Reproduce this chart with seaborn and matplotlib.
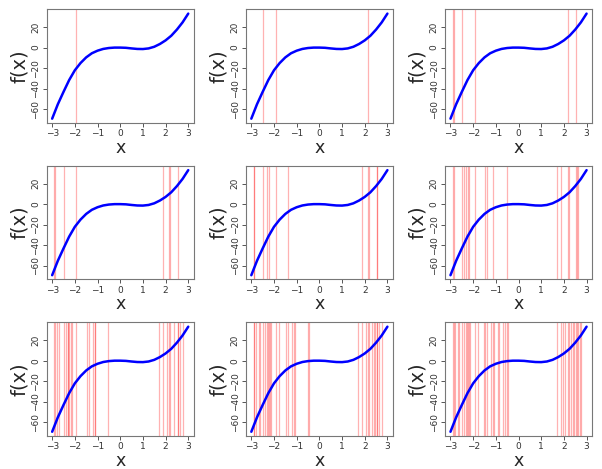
import matplotlib
matplotlib.use("Agg")
import matplotlib.pyplot as plt
import seaborn as sns
import numpy as np
import pandas as pd

# curve values
x_vals = [-3.0, -2.75, -2.5, -2.25, -2.0, -1.75, -1.5, -1.25, -1.0, -0.75, -0.5, -0.25,
          0.0, 0.25, 0.5, 0.75, 1.0, 1.25, 1.5, 1.75, 2.0, 2.25, 2.5, 2.75, 3.0]
f_vals = [-69.0, -55.0, -43.0, -31.5, -22.0, -15.0, -9.5, -5.5, -3.0, -1.3, -0.4, 0.0,
          0.0, -0.2, -0.8, -1.3, -1.4, -0.8, 0.8, 3.5, 7.0, 11.5, 17.5, 24.5, 33.0]

# sampled x positions (red lines), in the order they appear across panels
samples = [-1.93,
           -2.49, 2.16,
           -2.90, -2.86, 2.55,
           1.87, 2.21,
           -2.32, -2.24, -1.38, 2.56,
           -2.39, -2.19, -1.46, -1.13, -0.52, 1.69, 2.62,
           -2.80, -2.68, -2.28, -2.14, -1.21, -1.09, 2.06, 2.39, 2.77,
           -2.61, -1.80, -0.47, 2.31, 2.46,
           -1.52, -0.92, -0.84, -0.69, -0.60, 1.96, 2.69]
n_shown = [1, 3, 6, 8, 12, 19, 28, 33, 40]

x_ticks = [-3, -2, -1, 0, 1, 2, 3]
y_ticks = [-60, -40, -20, 0, 20]

curve = pd.DataFrame({"x": x_vals, "f": f_vals})

sns.set_style("white")
plt.rcParams['font.family'] = ['DejaVu Sans']

fig, axes = plt.subplots(3, 3, figsize=(6.02, 4.69), dpi=100)
fig.subplots_adjust(left=0.0776, right=0.9834, top=0.980, bottom=0.0704,
                    wspace=0.355, hspace=0.379)

for ax, n in zip(axes.flat, n_shown):
    for s in samples[:n]:
        ax.axvline(s, color='red', alpha=0.3, linewidth=0.9, zorder=1)
    sns.lineplot(data=curve, x="x", y="f", ax=ax, color='blue', linewidth=1.8,
                 zorder=3)
    ax.set_xlim(-3.24, 3.24)
    ax.set_ylim(-73.1, 37.1)
    ax.set_xticks(x_ticks)
    ax.set_yticks(y_ticks)
    ax.set_xticklabels([str(t).replace('-', '\u2212') for t in x_ticks])
    ax.set_yticklabels([str(t).replace('-', '\u2212') for t in y_ticks],
                       rotation=90, va='center')
    ax.tick_params(axis='both', direction='out', length=3, width=0.7,
                   colors='#555555', labelsize=6.5, labelcolor='#333333',
                   bottom=True, left=True, pad=1.5)
    ax.set_xlabel("x", fontsize=12.5, labelpad=0.3)
    ax.set_ylabel("f(x)", fontsize=14, labelpad=2)
    for sp in ax.spines.values():
        sp.set_color('#777777')
        sp.set_linewidth(0.8)

plt.savefig("out.png", dpi=100)
